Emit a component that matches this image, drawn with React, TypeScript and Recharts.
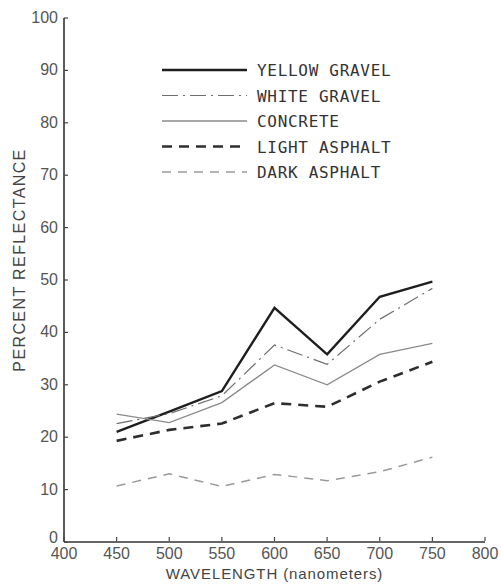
import React from 'react';
import { LineChart, Line, XAxis, YAxis } from 'recharts';

const wavelengths = [450, 500, 550, 600, 650, 700, 750];
const yellowGravel = [21, 24.9, 28.8, 44.7, 35.8, 46.8, 49.7];
const whiteGravel = [22.6, 24.5, 27.9, 37.6, 33.9, 42.5, 48.4];
const concrete = [24.4, 22.8, 26.6, 33.8, 30, 35.8, 37.9];
const lightAsphalt = [19.3, 21.4, 22.6, 26.5, 25.8, 30.6, 34.4];
const darkAsphalt = [10.7, 13, 10.6, 12.9, 11.7, 13.4, 16.2];

const xTicks = [400, 450, 500, 550, 600, 650, 700, 750, 800];
const yTicks = [0, 10, 20, 30, 40, 50, 60, 70, 80, 90, 100];

const data = wavelengths.map((w, i) => ({
  w,
  yellow: yellowGravel[i],
  white: whiteGravel[i],
  concrete: concrete[i],
  light: lightAsphalt[i],
  dark: darkAsphalt[i],
}));

const seriesDefs = [
  { key: 'yellow', name: 'YELLOW GRAVEL', stroke: '#1e1e1e', width: 2.4, dash: undefined as string | undefined },
  { key: 'white', name: 'WHITE GRAVEL', stroke: '#6e6e6e', width: 1.2, dash: '16 5 2 5' },
  { key: 'concrete', name: 'CONCRETE', stroke: '#8a8a8a', width: 1.3, dash: undefined },
  { key: 'light', name: 'LIGHT ASPHALT', stroke: '#2e2e2e', width: 2.6, dash: '10 7' },
  { key: 'dark', name: 'DARK ASPHALT', stroke: '#9a9a9a', width: 1.5, dash: '9 7' },
];

const tickFont = '"Liberation Sans", Arial, sans-serif';

const XTick = (props: any) => {
  const { x, y, payload } = props;
  return (
    <g>
      <line x1={x} x2={x} y1={y - 1} y2={y - 5} stroke="#444" strokeWidth={1.2} />
      <text x={x} y={y + 17} textAnchor="middle" fontSize={16} fill="#555" fontFamily={tickFont}>
        {payload.value}
      </text>
    </g>
  );
};

const YTick = (props: any) => {
  const { x, y, payload } = props;
  return (
    <g>
      <line x1={x + 6} x2={x + 10} y1={y} y2={y} stroke="#444" strokeWidth={1.2} />
      <text x={x} y={y + (payload.value === 0 ? 1 : 5)} textAnchor="end" fontSize={16} fill="#555" fontFamily={tickFont}>
        {payload.value}
      </text>
    </g>
  );
};

const LegendBox = () => (
  <svg width={260} height={130} style={{ position: 'absolute', left: 160, top: 60 }}>
    {seriesDefs.map((s, i) => (
      <g key={s.key}>
        <line
          x1={2}
          x2={87}
          y1={10 + i * 25.5}
          y2={10 + i * 25.5}
          stroke={s.stroke}
          strokeWidth={s.width}
          strokeDasharray={s.dash}
        />
        <text
          x={97}
          y={16 + i * 25.5}
          fontSize={16}
          letterSpacing={0.7}
          fill="#333"
          fontFamily='"DejaVu Sans Mono", monospace'
        >
          {s.name}
        </text>
      </g>
    ))}
  </svg>
);

export default function App() {
  return (
    <div style={{ position: 'absolute', left: 0, top: 0, width: 501, height: 584, background: '#fff' }}>
      <LineChart width={501} height={584} data={data} margin={{ top: 18, right: 16, bottom: 0, left: 0 }}>
        <XAxis
          dataKey="w"
          type="number"
          domain={[400, 800]}
          ticks={xTicks}
          interval={0}
          tickLine={false}
          tickSize={0}
          tickMargin={0}
          height={42}
          axisLine={{ stroke: '#333', strokeWidth: 1.6 }}
          tick={<XTick />}
          label={{
            content: (p: any) => {
              const vb = p.viewBox;
              return (
                <text
                  x={vb.x + vb.width / 2}
                  y={vb.y + 37}
                  textAnchor="middle"
                  fontSize={15}
                  letterSpacing={0.9}
                  fill="#444"
                  fontFamily={tickFont}
                >
                  WAVELENGTH (nanometers)
                </text>
              );
            },
          }}
        />
        <YAxis
          type="number"
          domain={[0, 100]}
          ticks={yTicks}
          interval={0}
          width={64}
          tickLine={false}
          tickSize={0}
          tickMargin={6}
          axisLine={{ stroke: '#333', strokeWidth: 1.6 }}
          tick={<YTick />}
          label={{
            content: (p: any) => {
              const vb = p.viewBox;
              const cx = vb.x + 21;
              const cy = vb.y + vb.height / 2 - 20;
              return (
                <text
                  x={cx}
                  y={cy}
                  transform={`rotate(-90 ${cx} ${cy})`}
                  textAnchor="middle"
                  dominantBaseline="middle"
                  fontSize={16}
                  letterSpacing={1.4}
                  fill="#444"
                  fontFamily={tickFont}
                >
                  PERCENT REFLECTANCE
                </text>
              );
            },
          }}
        />
        {seriesDefs.map((s) => (
          <Line
            key={s.key}
            dataKey={s.key}
            name={s.name}
            stroke={s.stroke}
            strokeWidth={s.width}
            strokeDasharray={s.dash}
            dot={false}
            activeDot={false}
            isAnimationActive={false}
            type="linear"
          />
        ))}
      </LineChart>
      <LegendBox />
    </div>
  );
}
